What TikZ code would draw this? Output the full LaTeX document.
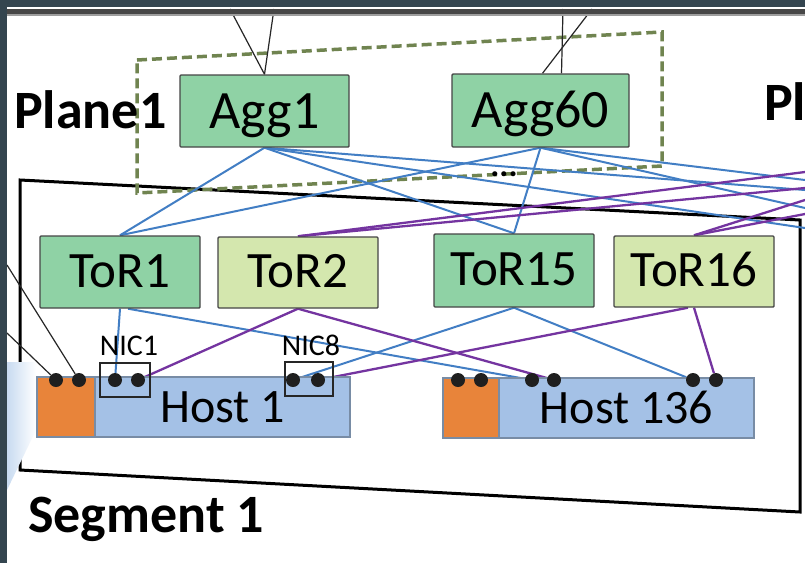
\documentclass[tikz,border=0pt]{standalone}
\usepackage{fontspec}
\setmainfont{Carlito}
\usetikzlibrary{calc}
\pgfdeclarelayer{back}
\pgfdeclarelayer{wires}
\pgfsetlayers{back,wires,main}
\definecolor{slate}{RGB}{52,69,79}
\definecolor{aggfill}{RGB}{143,210,165}
\definecolor{torlight}{RGB}{212,231,174}
\definecolor{hostblue}{RGB}{164,193,230}
\definecolor{hostorange}{RGB}{232,132,58}
\definecolor{hostedge}{RGB}{120,140,165}
\definecolor{linkblue}{RGB}{66,126,196}
\definecolor{linkpurple}{RGB}{116,52,160}
\definecolor{planegreen}{RGB}{112,132,80}
\definecolor{boxedge}{RGB}{70,70,70}
\definecolor{glowblue}{RGB}{200,219,241}

\begin{document}
\begin{tikzpicture}[x=1pt,y=-1pt,
  switchbox/.style={draw=boxedge, line width=1.4pt, rounded corners=1pt,
    inner sep=0pt, text height=30pt, text depth=0pt,
    minimum width=160pt, minimum height=72pt, font=\fontsize{51}{56}\selectfont},
  aggbox/.style={switchbox, fill=aggfill, text height=34pt, font=\fontsize{54}{60}\selectfont},
  torA/.style={switchbox, fill=aggfill},
  torB/.style={switchbox, fill=torlight},
  hostpart/.style={draw=hostedge, line width=1.2pt, inner sep=0pt,
    minimum height=60pt, text height=30pt, text depth=0pt,
    font=\fontsize{48}{54}\selectfont},
  port/.style={circle, fill=black!88, inner sep=0pt, minimum size=14pt},
  nicbox/.style={draw=black!85, line width=1.3pt, inner sep=0pt, minimum height=34pt},
  niclabel/.style={anchor=base, inner sep=0pt, font=\fontsize{30}{34}\selectfont},
  biglabel/.style={anchor=base west, inner sep=0pt, font=\bfseries\fontsize{54}{60}\selectfont},
  bluelink/.style={draw=linkblue, line width=2pt},
  purplelink/.style={draw=linkpurple, line width=2.3pt},
  uplink/.style={draw=black!85, line width=1.2pt}
]
\useasboundingbox (0,0) rectangle (805,563);
\begin{pgfonlayer}{back}
  \fill[white] (0,0) rectangle (805,563);
\end{pgfonlayer}

% switches
\node[aggbox, minimum width=169pt, minimum height=72pt] (agg1) at (264.5,111) {Agg1};
\node[aggbox, minimum width=177pt, minimum height=73pt] (agg60) at (540.5,110.5) {Agg60};
\node[torA] (tor1) at (120,272) {ToR1};
\node[torB, minimum height=71pt] (tor2) at (298,272.5) {ToR2};
\node[torA, minimum height=73pt] (tor15) at (514,270.5) {ToR15};
\node[torB, minimum height=71pt] (tor16) at (694,271.5) {ToR16};

% hosts
\node[hostpart, fill=hostorange, minimum width=58pt] (h1cpu) at (66,407) {};
\node[hostpart, fill=hostblue, minimum width=255pt] (h1) at (222.5,407) {Host 1};
\node[hostpart, fill=hostorange, minimum width=56pt] (h136cpu) at (471,408) {};
\node[hostpart, fill=hostblue, minimum width=255pt] (h136) at (626.5,408) {Host 136};

% NIC frames and labels
\node[nicbox, minimum width=50pt] (nic1box) at (125,380) {};
\node[nicbox, minimum width=48pt] (nic8box) at (309,379) {};
\node[niclabel] (nic1) at (129,355) {NIC1};
\node[niclabel] (nic8) at (311,355) {NIC8};

% ports
\node[port] (p1a) at (56,380) {};
\node[port] (p1b) at (79,380) {};
\node[port] (n1a) at (115,380) {};
\node[port] (n1b) at (138,380) {};
\node[port] (n8a) at (293,380) {};
\node[port] (n8b) at (318,380) {};
\node[port] (q1) at (458,380) {};
\node[port] (q2) at (481,380) {};
\node[port] (q3) at (532,380) {};
\node[port] (q4) at (554,380) {};
\node[port] (q5) at (693,380) {};
\node[port] (q6) at (716,380) {};

% labels
\node[biglabel] (plane1) at (14,128) {Plane1};
\node[biglabel] (plane2) at (764,120) {Pl};
\node[biglabel] (seg1) at (28,532) {Segment 1};
\node[anchor=base, inner sep=0pt, font=\bfseries\fontsize{34}{36}\selectfont] (more) at (504,176.5) {...};

% free ends of links leaving the view
\coordinate (t1) at (230,9);
\coordinate (t2) at (274,9);
\coordinate (t3) at (592,9);
\coordinate (t4) at (563,9);
\coordinate (l1) at (7,265);
\coordinate (l2) at (7,333);
\coordinate (e1) at (805,190);
\coordinate (e2) at (805,228);
\coordinate (e3) at (805,180);
\coordinate (e4) at (805,208);
\coordinate (e5) at (805,172);
\coordinate (e6) at (805,188);
\coordinate (e7) at (805,200);
\coordinate (e8) at (805,214);

\begin{pgfonlayer}{back}
  % segment outline
  \draw[black, line width=3pt, line join=miter]
    (20,180) -- (800,220) -- (800,512) -- (20,470) -- cycle;
  % plane outline
  \draw[planegreen, line width=3.5pt, dash pattern=on 10pt off 5pt]
    (137,60) -- (662,32) -- (662,166) -- (137,193) -- cycle;
\end{pgfonlayer}

\begin{pgfonlayer}{wires}
  % uplinks above the aggregation switches
  \draw[uplink] (agg1.north) -- (t1);
  \draw[uplink] (agg1.north) -- (t2);
  \draw[uplink] ($(agg60.north)+(2,0)$) -- (t3);
  \draw[uplink] ($(agg60.north)+(21,0)$) -- (t4);
  % aggregation to ToR (plane 1)
  \draw[bluelink] (agg1.south) -- (tor1.north);
  \draw[bluelink] (agg1.south) -- (tor15.north);
  \draw[bluelink] (agg60.south) -- (tor1.north);
  \draw[bluelink] (agg60.south) -- (tor15.north);
  \draw[bluelink] (agg1.south) -- (e1);
  \draw[bluelink] (agg1.south) -- (e2);
  \draw[bluelink] (agg60.south) -- (e3);
  \draw[bluelink] (agg60.south) -- (e4);
  % ToR to the next plane
  \draw[purplelink] (tor2.north) -- (e5);
  \draw[purplelink] (tor2.north) -- (e6);
  \draw[purplelink] (tor16.north) -- (e7);
  \draw[purplelink] (tor16.north) -- (e8);
  % ToR to host NICs
  \draw[bluelink] (tor1.south) -- (n1a);
  \draw[bluelink] ($(tor1.south)+(8,0)$) -- (q3);
  \draw[bluelink] (tor15.south) -- (n8a);
  \draw[bluelink] (tor15.south) -- (q5);
  \draw[purplelink] (tor2.south) -- (n1b);
  \draw[purplelink] (tor2.south) -- (q4);
  \draw[purplelink] ($(tor16.south)+(-6,0)$) -- (n8b);
  \draw[purplelink] (tor16.south) -- (q6);
  % front-end links
  \draw[uplink] (l1) -- (p1b);
  \draw[uplink] (l2) -- (p1a);
\end{pgfonlayer}

% soft highlight at the left margin
\shade[left color=glowblue, right color=white]
  (7,362) -- (36,362) -- (36,430) -- (7,490) -- cycle;

% window frame
\fill[slate] (0,0) rectangle (7,563);
\fill[slate] (0,0) rectangle (805,7);
\fill[black!72] (7,9) rectangle (805,14);
\fill[black!38] (7,14) rectangle (805,16);
\end{tikzpicture}
\end{document}
